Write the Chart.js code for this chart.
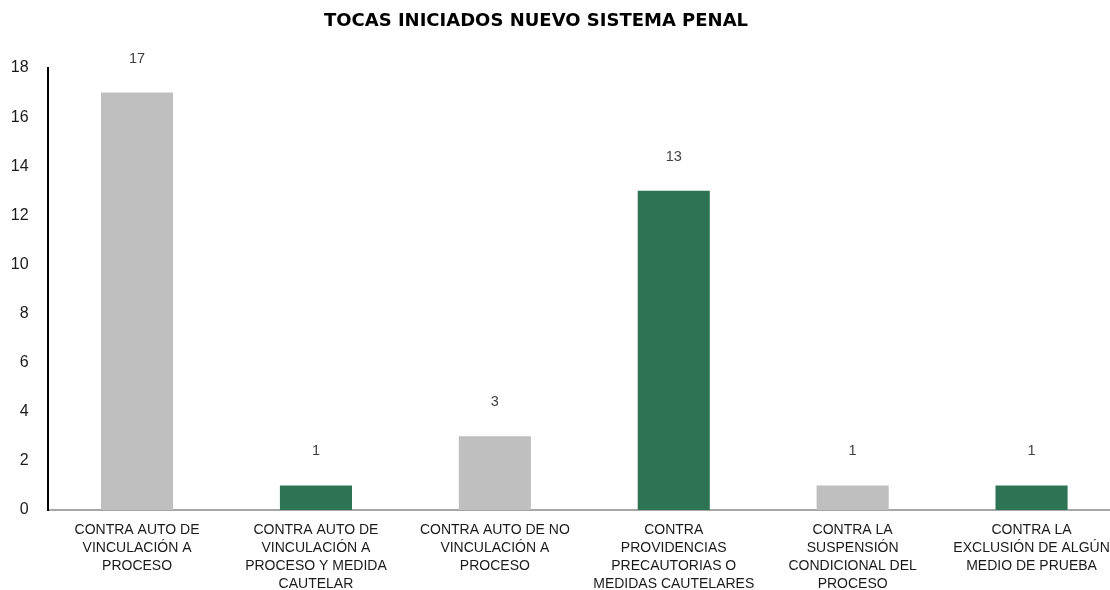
<!DOCTYPE html>
<html>
<head>
<meta charset="utf-8">
<script src="https://cdn.jsdelivr.net/npm/chart.js@4.4.1/dist/chart.umd.min.js"></script>
<style>
  html, body { margin: 0; padding: 0; background: #fff; overflow: hidden; }
  #wrap { position: relative; width: 1121px; height: 590px; }
</style>
</head>
<body>
<div id="wrap"><canvas id="c"></canvas></div>
<script>
const chartTitle = 'TOCAS INICIADOS NUEVO SISTEMA PENAL';
const categories = [
  ['CONTRA AUTO DE', 'VINCULACIÓN A', 'PROCESO'],
  ['CONTRA AUTO DE', 'VINCULACIÓN A', 'PROCESO Y MEDIDA', 'CAUTELAR'],
  ['CONTRA AUTO DE NO', 'VINCULACIÓN A', 'PROCESO'],
  ['CONTRA', 'PROVIDENCIAS', 'PRECAUTORIAS O', 'MEDIDAS CAUTELARES'],
  ['CONTRA LA', 'SUSPENSIÓN', 'CONDICIONAL DEL', 'PROCESO'],
  ['CONTRA LA', 'EXCLUSIÓN DE ALGÚN', 'MEDIO DE PRUEBA']
];
const values = [17, 1, 3, 13, 1, 1];
const barColors = ['#BFBFBF', '#2E7353', '#BFBFBF', '#2E7353', '#BFBFBF', '#2E7353'];
const yMin = 0, yMax = 18, yStep = 2;

const FONT = "'Liberation Sans', Arial, sans-serif";

const valueLabels = {
  id: 'valueLabels',
  afterDatasetsDraw(chart) {
    const ctx = chart.ctx;
    const meta = chart.getDatasetMeta(0);
    ctx.save();
    ctx.font = '14.5px ' + FONT;
    ctx.fillStyle = '#404040';
    ctx.textAlign = 'center';
    ctx.textBaseline = 'middle';
    meta.data.forEach((bar, i) => {
      ctx.fillText(String(values[i]), bar.x, bar.y - 34);
    });
    ctx.restore();
  }
};

const titlePlugin = {
  id: 'customTitle',
  afterDraw(chart) {
    const ctx = chart.ctx;
    ctx.save();
    ctx.font = "bold 18px 'DejaVu Sans', sans-serif";
    ctx.fillStyle = '#000';
    ctx.textAlign = 'center';
    ctx.textBaseline = 'middle';
    ctx.fillText(chartTitle, 536, 21);
    ctx.restore();
  }
};

new Chart(document.getElementById('c'), {
  type: 'bar',
  data: {
    labels: categories,
    datasets: [{
      data: values,
      backgroundColor: barColors,
      borderWidth: 0,
      barPercentage: 0.403,
      categoryPercentage: 1.0
    }]
  },
  options: {
    responsive: true,
    maintainAspectRatio: false,
    animation: false,
    layout: { padding: { top: 68, left: 0, right: 0, bottom: 0 } },
    plugins: { legend: { display: false }, tooltip: { enabled: false }, title: { display: false } },
    scales: {
      x: {
        grid: { display: false, drawTicks: false },
        border: { display: true, color: '#A6A6A6', width: 2 },
        ticks: {
          color: '#1a1a1a',
          font: { family: FONT, size: 14, lineHeight: 1.29 },
          padding: 11,
          maxRotation: 0,
          minRotation: 0,
          autoSkip: false
        },
        afterFit(s) { s.height = 80; }
      },
      y: {
        min: yMin, max: yMax,
        grid: { display: false, drawTicks: false },
        border: { display: true, color: '#000', width: 2 },
        ticks: {
          stepSize: yStep,
          color: '#1a1a1a',
          font: { family: FONT, size: 16 },
          padding: 19
        },
        afterFit(s) { s.width = 47.6; }
      }
    }
  },
  plugins: [valueLabels, titlePlugin]
});
</script>
</body>
</html>
